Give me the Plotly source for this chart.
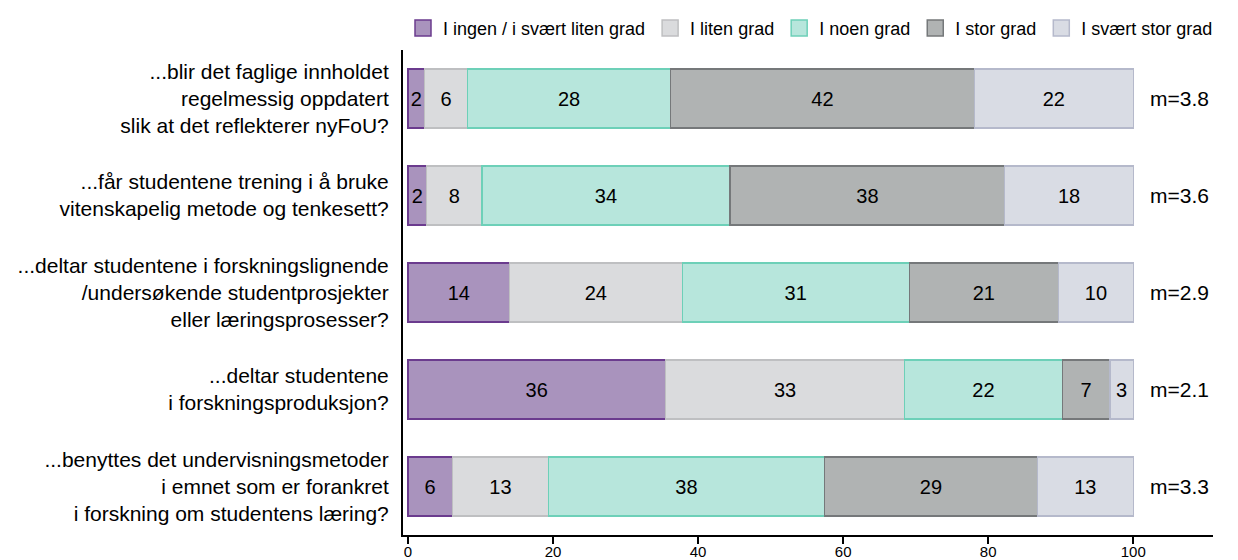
import plotly.graph_objects as go

questions = [
    "...blir det faglige innholdet<br>regelmessig oppdatert<br>slik at det reflekterer nyFoU?",
    "...får studentene trening i å bruke<br>vitenskapelig metode og tenkesett?",
    "...deltar studentene i forskningslignende<br>/undersøkende studentprosjekter<br>eller læringsprosesser?",
    "...deltar studentene<br>i forskningsproduksjon?",
    "...benyttes det undervisningsmetoder<br>i emnet som er forankret<br>i forskning om studentens læring?",
]
categories = ["I ingen / i svært liten grad", "I liten grad", "I noen grad", "I stor grad", "I svært stor grad"]

# percent per answer category, one value per question
ingen = [2.3, 2.6, 14.0, 35.5, 6.1]
liten = [5.9, 7.6, 23.8, 33.0, 13.3]
noen = [28.0, 34.2, 31.3, 21.7, 38.0]
stor = [41.9, 37.9, 20.6, 6.6, 29.4]
svaert_stor = [21.9, 17.7, 10.3, 3.2, 13.2]
labels = [
    [2, 2, 14, 36, 6],
    [6, 8, 24, 33, 13],
    [28, 34, 31, 22, 38],
    [42, 38, 21, 7, 29],
    [22, 18, 10, 3, 13],
]
means = ["m=3.8", "m=3.6", "m=2.9", "m=2.1", "m=3.3"]

fills = ["#A993BD", "#DADBDD", "#B7E6DC", "#B0B3B3", "#D9DCE4"]
borders = ["#6B3B8E", "#BEBFC1", "#6DD0B8", "#75787A", "#B5B9CB"]

fig = go.Figure()
for i, vals in enumerate([ingen, liten, noen, stor, svaert_stor]):
    fig.add_trace(go.Bar(
        y=questions, x=vals, orientation="h", name=categories[i],
        marker=dict(color=fills[i], line=dict(color=borders[i], width=1.2)),
        text=[str(v) for v in labels[i]], textposition="inside",
        insidetextanchor="middle", textangle=0,
        textfont=dict(color="black", size=20),
        hoverinfo="skip", showlegend=False,
    ))

# legend entries with bigger square swatches
for i, name in enumerate(categories):
    fig.add_trace(go.Scatter(
        x=[None], y=[None], mode="markers", name=name,
        marker=dict(symbol="square", size=16, color=fills[i],
                    line=dict(color=borders[i], width=1.5)),
    ))

for q, m in zip(questions, means):
    fig.add_annotation(x=102, y=q, text=m, showarrow=False, xanchor="left",
                       font=dict(size=21, color="black"))

# page body has an 8px margin, so the figure is made 8px smaller
fig.update_layout(
    barmode="stack", bargap=0.39, width=1230, height=552,
    plot_bgcolor="white", paper_bgcolor="white",
    font=dict(family="Liberation Sans, Arial", size=20, color="black"),
    margin=dict(l=395, r=25, t=42, b=25, autoexpand=False),
    uniformtext=dict(minsize=20, mode="show"),
    legend=dict(orientation="h", x=0.0, xanchor="left", y=1.045, yanchor="middle",
                font=dict(size=18), traceorder="normal", itemwidth=30),
)
fig.update_xaxes(range=[-0.69, 111.0], showgrid=False, zeroline=False,
                 showline=True, linecolor="black", linewidth=2,
                 ticks="outside", ticklen=7, tickwidth=2, tickcolor="black",
                 tickvals=[0, 20, 40, 60, 80, 100], tickfont=dict(size=15),
                 ticklabelstandoff=-5, automargin=False)
fig.update_yaxes(autorange="reversed", showgrid=False, zeroline=False,
                 showline=True, linecolor="black", linewidth=2,
                 ticks="", ticklabelstandoff=8, tickfont=dict(size=21),
                 automargin=False)

fig.write_html("out.html")
